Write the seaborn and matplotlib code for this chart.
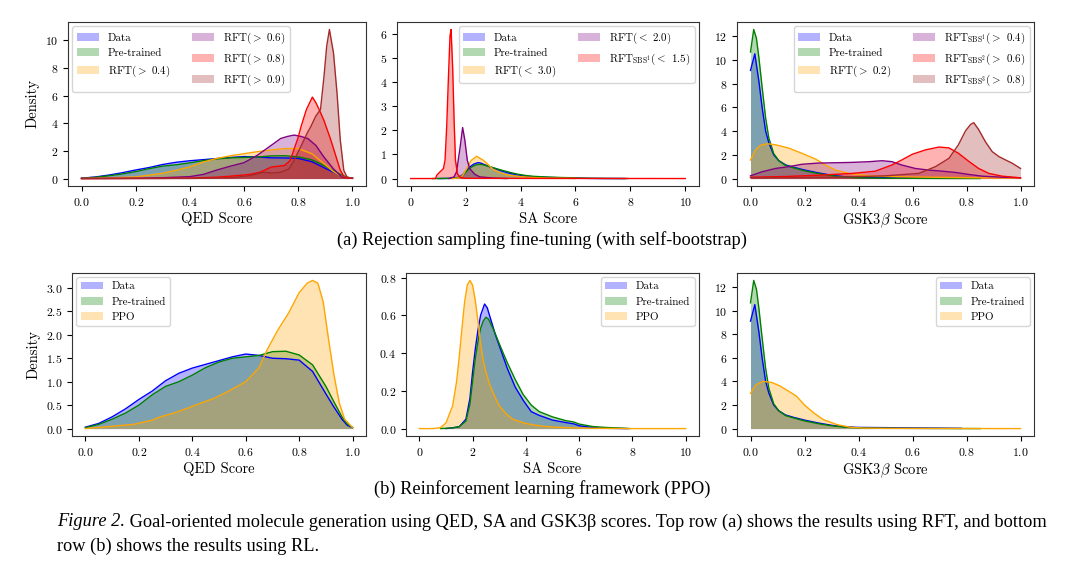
import matplotlib
matplotlib.use("Agg")
import matplotlib.pyplot as plt
from matplotlib.ticker import MultipleLocator
import seaborn as sns
import numpy as np
import pandas as pd

# ---------------- data ----------------
# QED, top row (RFT)
QED_DATA_X = [0, 0.05, 0.1, 0.15, 0.2, 0.25, 0.3, 0.35, 0.4, 0.45, 0.5, 0.55, 0.6, 0.65, 0.7, 0.75, 0.8, 0.85, 0.9, 0.93, 0.96, 0.98, 1.0]
QED_DATA_Y = [0.03, 0.11, 0.25, 0.42, 0.62, 0.8, 1.02, 1.18, 1.29, 1.37, 1.45, 1.53, 1.59, 1.56, 1.5, 1.49, 1.46, 1.22, 0.74, 0.46, 0.2, 0.07, 0.02]
QED_PRE_X = [0, 0.05, 0.1, 0.15, 0.2, 0.25, 0.3, 0.35, 0.4, 0.45, 0.5, 0.55, 0.6, 0.65, 0.7, 0.75, 0.8, 0.85, 0.9, 0.93, 0.96, 0.98, 1.0]
QED_PRE_Y = [0.02, 0.09, 0.2, 0.33, 0.5, 0.72, 0.9, 1.0, 1.14, 1.3, 1.42, 1.5, 1.53, 1.56, 1.64, 1.65, 1.57, 1.36, 0.9, 0.57, 0.25, 0.1, 0.02]
QED_RFT04_X = [0, 0.1, 0.2, 0.3, 0.35, 0.4, 0.45, 0.5, 0.55, 0.6, 0.65, 0.7, 0.75, 0.8, 0.85, 0.9, 0.93, 0.96, 0.98, 1.0]
QED_RFT04_Y = [0.0, 0.04, 0.12, 0.38, 0.6, 0.85, 1.2, 1.46, 1.65, 1.8, 1.95, 2.07, 2.17, 2.17, 1.8, 1.0, 0.5, 0.15, 0.05, 0.02]
QED_RFT06_X = [0, 0.2, 0.3, 0.4, 0.45, 0.5, 0.55, 0.6, 0.65, 0.7, 0.735, 0.76, 0.785, 0.81, 0.835, 0.865, 0.895, 0.93, 0.96, 0.98, 1.0]
QED_RFT06_Y = [0.0, 0.02, 0.06, 0.14, 0.3, 0.62, 0.9, 1.15, 1.7, 2.4, 2.9, 3.05, 3.15, 3.05, 2.9, 2.4, 1.55, 0.7, 0.12, 0.04, 0.02]
QED_RFT08_X = [0, 0.3, 0.4, 0.5, 0.55, 0.62, 0.66, 0.7, 0.75, 0.77, 0.8, 0.81, 0.83, 0.852, 0.865, 0.877, 0.895, 0.92, 0.94, 0.955, 0.97, 0.985, 1.0]
QED_RFT08_Y = [0.0, 0.01, 0.03, 0.1, 0.17, 0.3, 0.46, 0.83, 0.95, 1.3, 3.0, 3.75, 5.0, 5.9, 5.5, 5.0, 4.2, 2.8, 1.55, 0.6, 0.1, 0.03, 0.02]
QED_RFT09_X = [0, 0.4, 0.55, 0.625, 0.67, 0.705, 0.735, 0.766, 0.784, 0.809, 0.833, 0.846, 0.864, 0.882, 0.895, 0.905, 0.915, 0.93, 0.943, 0.955, 0.968, 0.98, 1.0]
QED_RFT09_Y = [0.0, 0.01, 0.05, 0.22, 0.45, 0.4, 0.46, 0.7, 1.3, 2.3, 3.3, 3.75, 4.5, 5.0, 7.4, 9.6, 10.8, 9.1, 6.2, 2.8, 0.6, 0.1, 0.02]

# SA
SA_DATA_X = [1.0, 1.3, 1.5, 1.75, 1.9, 2.0, 2.1, 2.2, 2.3, 2.45, 2.55, 2.7, 2.85, 3.0, 3.3, 3.6, 3.9, 4.2, 4.5, 5.0, 5.5, 5.8, 6.0, 6.5, 7.0, 7.8]
SA_DATA_Y = [0.0, 0.005, 0.01, 0.05, 0.16, 0.3, 0.42, 0.52, 0.6, 0.66, 0.64, 0.57, 0.5, 0.44, 0.32, 0.22, 0.15, 0.09, 0.07, 0.045, 0.032, 0.025, 0.015, 0.006, 0.002, 0.0]
SA_PRE_X = [0.8, 1.2, 1.5, 1.75, 1.9, 2.0, 2.1, 2.2, 2.3, 2.4, 2.5, 2.6, 2.8, 3.0, 3.3, 3.6, 3.9, 4.2, 4.5, 5.0, 5.5, 5.8, 6.0, 6.5, 7.0, 7.5, 7.9]
SA_PRE_Y = [0.0, 0.003, 0.01, 0.04, 0.13, 0.25, 0.37, 0.46, 0.53, 0.57, 0.59, 0.58, 0.52, 0.45, 0.35, 0.26, 0.18, 0.125, 0.09, 0.062, 0.042, 0.035, 0.024, 0.011, 0.006, 0.003, 0.0]
SA_RFT30_X = [1.5, 1.8, 1.9, 2.04, 2.2, 2.4, 2.64, 2.8, 3.0, 3.25, 3.5, 4.0, 4.5, 5.0, 6.0]
SA_RFT30_Y = [0.0, 0.03, 0.14, 0.41, 0.75, 0.92, 0.76, 0.6, 0.38, 0.24, 0.15, 0.08, 0.04, 0.02, 0.005]
SA_RFT20_X = [1.4, 1.58, 1.67, 1.73, 1.8, 1.89, 1.97, 2.06, 2.15, 2.33, 2.51, 3.0, 3.5]
SA_RFT20_Y = [0.0, 0.07, 0.28, 0.76, 1.3, 2.11, 1.6, 0.76, 0.41, 0.18, 0.07, 0.02, 0.0]
SA_SBS15_X = [0, 0.9, 0.95, 1.07, 1.19, 1.25, 1.31, 1.37, 1.43, 1.47, 1.53, 1.58, 1.63, 1.7, 1.8, 2.0, 10.0]
SA_SBS15_Y = [0.0, 0.0, 0.14, 0.28, 0.41, 0.76, 2.14, 4.07, 5.9, 6.17, 4.5, 2.4, 0.76, 0.2, 0.05, 0.01, 0.0]

# GSK3beta
GSK_DATA_X = [0, 0.016, 0.031, 0.043, 0.056, 0.068, 0.086, 0.105, 0.13, 0.16, 0.2, 0.25, 0.3, 0.35, 0.4, 0.5, 0.6, 0.7, 0.78]
GSK_DATA_Y = [9.1, 10.5, 8.2, 6.0, 4.0, 3.0, 2.0, 1.5, 1.15, 0.95, 0.72, 0.48, 0.28, 0.15, 0.1, 0.08, 0.06, 0.04, 0.02]
GSK_PRE_X = [0, 0.012, 0.022, 0.031, 0.043, 0.056, 0.068, 0.086, 0.105, 0.13, 0.16, 0.2, 0.25, 0.3, 0.35, 0.4, 0.5, 0.6, 0.7, 0.85]
GSK_PRE_Y = [10.65, 12.55, 11.8, 10.2, 7.7, 5.1, 3.4, 2.1, 1.5, 1.1, 0.9, 0.65, 0.42, 0.24, 0.12, 0.06, 0.03, 0.02, 0.01, 0.0]
GSK_RFT02_X = [0, 0.018, 0.037, 0.062, 0.093, 0.142, 0.19, 0.24, 0.278, 0.315, 0.365, 0.44, 0.55, 0.7, 0.85, 1.0]
GSK_RFT02_Y = [1.56, 2.4, 2.8, 2.93, 2.84, 2.56, 2.13, 1.65, 1.14, 0.71, 0.43, 0.23, 0.15, 0.1, 0.06, 0.03]
GSK_SBS1_X = [0, 0.043, 0.093, 0.142, 0.19, 0.25, 0.315, 0.376, 0.44, 0.487, 0.524, 0.56, 0.61, 0.66, 0.71, 0.76, 0.81, 0.858, 0.932, 1.0]
GSK_SBS1_Y = [0.23, 0.57, 0.85, 1.0, 1.2, 1.3, 1.33, 1.36, 1.42, 1.5, 1.42, 1.14, 0.85, 0.71, 0.62, 0.51, 0.34, 0.2, 0.11, 0.06]
GSK_SBS2_X = [0, 0.13, 0.25, 0.376, 0.462, 0.524, 0.56, 0.6, 0.648, 0.698, 0.735, 0.77, 0.81, 0.845, 0.883, 0.932, 1.0]
GSK_SBS2_Y = [0.11, 0.17, 0.28, 0.43, 0.62, 1.14, 1.56, 2.05, 2.41, 2.65, 2.58, 2.13, 1.42, 0.85, 0.43, 0.2, 0.06]
GSK_SBS3_X = [0, 0.315, 0.5, 0.623, 0.685, 0.735, 0.77, 0.796, 0.815, 0.827, 0.845, 0.87, 0.895, 0.92, 0.945, 0.97, 1.0]
GSK_SBS3_Y = [0.06, 0.11, 0.23, 0.43, 1.0, 1.7, 2.84, 4.0, 4.55, 4.7, 4.12, 3.1, 2.27, 1.85, 1.56, 1.28, 0.85]

# PPO (bottom row)
QED_PPO_X = [0, 0.1, 0.18, 0.25, 0.28, 0.33, 0.38, 0.43, 0.48, 0.53, 0.6, 0.65, 0.68, 0.72, 0.76, 0.8, 0.83, 0.85, 0.87, 0.89, 0.91, 0.93, 0.95, 0.97, 1.0]
QED_PPO_Y = [0.0, 0.05, 0.09, 0.18, 0.25, 0.33, 0.43, 0.54, 0.64, 0.78, 1.0, 1.3, 1.68, 2.1, 2.46, 2.9, 3.1, 3.16, 3.1, 2.7, 1.9, 1.15, 0.55, 0.2, 0.02]
SA_PPO_X = [0, 0.5, 0.8, 1.0, 1.25, 1.4, 1.5, 1.6, 1.7, 1.8, 1.9, 2.0, 2.1, 2.2, 2.3, 2.4, 2.5, 2.65, 2.8, 3.0, 3.25, 3.5, 4.0, 4.5, 5.0, 6.0, 7.0, 8.0, 10.0]
SA_PPO_Y = [0.0, 0.0, 0.005, 0.03, 0.12, 0.25, 0.38, 0.53, 0.67, 0.76, 0.785, 0.76, 0.68, 0.57, 0.45, 0.36, 0.3, 0.23, 0.18, 0.12, 0.08, 0.05, 0.027, 0.015, 0.008, 0.003, 0.001, 0.0, 0.0]
GSK_PPO_X = [0, 0.02, 0.045, 0.08, 0.11, 0.135, 0.17, 0.2, 0.234, 0.27, 0.32, 0.37, 0.42, 0.5, 0.7, 1.0]
GSK_PPO_Y = [3.0, 3.7, 4.0, 3.9, 3.6, 3.25, 2.75, 2.0, 1.33, 0.76, 0.34, 0.11, 0.04, 0.02, 0.01, 0.0]

LABEL_DATA = "Data"
LABEL_PRE = "Pre-trained"
LABELS_QED_RFT = [r"RFT(${>}$ 0.4)", r"RFT(${>}$ 0.6)", r"RFT(${>}$ 0.8)", r"RFT(${>}$ 0.9)"]
LABELS_SA_RFT = [r"RFT(${<}$ 3.0)", r"RFT(${<}$ 2.0)", r"RFT$_{\rm SBS^1}$(${<}$ 1.5)"]
LABELS_GSK_RFT = [r"RFT(${>}$ 0.2)", r"RFT$_{\rm SBS^1}$(${>}$ 0.4)", r"RFT$_{\rm SBS^2}$(${>}$ 0.6)", r"RFT$_{\rm SBS^3}$(${>}$ 0.8)"]
LABEL_PPO = "PPO"

COLORS = ["blue", "green", "orange", "purple", "red", "brown"]

# ---------------- style ----------------
plt.rcParams["font.family"] = ["cmr10", "DejaVu Serif"]
plt.rcParams["mathtext.fontset"] = "cm"
plt.rcParams["axes.formatter.use_mathtext"] = True
plt.rcParams["axes.unicode_minus"] = False

W, H = 1080, 569
fig = plt.figure(figsize=(W / 100, H / 100), dpi=100)


def px_axes(l, t, r, b):
    return fig.add_axes([l / W, 1 - b / H, (r - l) / W, (b - t) / H])


def draw(ax, x, y, color, label):
    df = pd.DataFrame({"x": x, "y": y})
    sns.lineplot(data=df, x="x", y="y", color=color, linewidth=1.0, ax=ax,
                 estimator=None, sort=True)
    return ax.fill_between(df["x"], df["y"], 0, color=color, alpha=0.3,
                           linewidth=0, label=label)


def finish(ax, xlabel, ylabel, loc, ncol, ystep, xstep):
    ax.set_xlabel(xlabel, fontsize=10.5, labelpad=3)
    ax.set_ylabel(ylabel if ylabel else "", fontsize=10.5)
    ax.yaxis.set_major_locator(MultipleLocator(ystep))
    ax.xaxis.set_major_locator(MultipleLocator(xstep))
    ax.tick_params(labelsize=8.5, length=3.5, width=0.8)
    for s in ax.spines.values():
        s.set_edgecolor("#333333")
    ax.legend(loc=loc, ncol=ncol, fontsize=7.9, borderaxespad=0.4)


axes_top = [px_axes(68, 22, 366, 186), px_axes(397, 22, 699, 186), px_axes(737, 22, 1034, 186)]
axes_bot = [px_axes(72, 273, 366, 436), px_axes(406, 273, 699, 436), px_axes(737, 273, 1034, 436)]

# top-left
ax = axes_top[0]
draw(ax, QED_DATA_X, QED_DATA_Y, COLORS[0], LABEL_DATA)
draw(ax, QED_PRE_X, QED_PRE_Y, COLORS[1], LABEL_PRE)
for (xx, yy), c, lab in zip([(QED_RFT04_X, QED_RFT04_Y), (QED_RFT06_X, QED_RFT06_Y),
                             (QED_RFT08_X, QED_RFT08_Y), (QED_RFT09_X, QED_RFT09_Y)],
                            COLORS[2:], LABELS_QED_RFT):
    draw(ax, xx, yy, c, lab)
finish(ax, "QED Score", "Density", "upper left", 2, 2, 0.2)

# top-middle
ax = axes_top[1]
draw(ax, SA_DATA_X, SA_DATA_Y, COLORS[0], LABEL_DATA)
draw(ax, SA_PRE_X, SA_PRE_Y, COLORS[1], LABEL_PRE)
for (xx, yy), c, lab in zip([(SA_RFT30_X, SA_RFT30_Y), (SA_RFT20_X, SA_RFT20_Y),
                             (SA_SBS15_X, SA_SBS15_Y)],
                            [COLORS[2], COLORS[3], COLORS[4]], LABELS_SA_RFT):
    draw(ax, xx, yy, c, lab)
finish(ax, "SA Score", None, "upper right", 2, 1, 2)

# top-right
ax = axes_top[2]
draw(ax, GSK_DATA_X, GSK_DATA_Y, COLORS[0], LABEL_DATA)
draw(ax, GSK_PRE_X, GSK_PRE_Y, COLORS[1], LABEL_PRE)
for (xx, yy), c, lab in zip([(GSK_RFT02_X, GSK_RFT02_Y), (GSK_SBS1_X, GSK_SBS1_Y),
                             (GSK_SBS2_X, GSK_SBS2_Y), (GSK_SBS3_X, GSK_SBS3_Y)],
                            COLORS[2:], LABELS_GSK_RFT):
    draw(ax, xx, yy, c, lab)
finish(ax, r"GSK3$\beta$ Score", None, "upper right", 2, 2, 0.2)

# bottom row
bottom_sets = [
    (QED_DATA_X, QED_DATA_Y, QED_PRE_X, QED_PRE_Y, QED_PPO_X, QED_PPO_Y, "QED Score", "Density", "upper left", 0.5, 0.2),
    (SA_DATA_X, SA_DATA_Y, SA_PRE_X, SA_PRE_Y, SA_PPO_X, SA_PPO_Y, "SA Score", None, "upper right", 0.2, 2),
    (GSK_DATA_X, GSK_DATA_Y, GSK_PRE_X, GSK_PRE_Y, GSK_PPO_X, GSK_PPO_Y, r"GSK3$\beta$ Score", None, "upper right", 2, 0.2),
]
for ax, (dx, dy, px, py, ox, oy, xl, yl, loc, ys, xs) in zip(axes_bot, bottom_sets):
    draw(ax, dx, dy, COLORS[0], LABEL_DATA)
    draw(ax, px, py, COLORS[1], LABEL_PRE)
    draw(ax, ox, oy, COLORS[2], LABEL_PPO)
    finish(ax, xl, yl, loc, 1, ys, xs)

# ---------------- captions ----------------
serif = "Liberation Serif"
renderer = fig.canvas.get_renderer()

line1_rest = (" Goal-oriented molecule generation using QED, SA and GSK3\u03b2 scores. "
              "Top row (a) shows the results using RFT, and bottom")
line2 = "row (b) shows the results using RL."
cap_size = 11.0
t1 = fig.text(57 / W, 1 - 522 / H, "Figure 2.", family=serif, style="italic",
              fontsize=cap_size, ha="left", va="center")
t2 = fig.text(0, 1 - 522 / H, line1_rest, family=serif, fontsize=cap_size,
              ha="left", va="center")
w_total = t1.get_window_extent(renderer).width + t2.get_window_extent(renderer).width
cap_size = cap_size * 988 / w_total
t1.set_fontsize(cap_size)
t2.set_fontsize(cap_size)
w1 = t1.get_window_extent(renderer).width
t2.set_x((57 + w1) / W)
fig.text(57 / W, 1 - 546 / H, line2, family=serif, fontsize=cap_size, ha="left", va="center")

fig.text(542 / W, 1 - 240 / H, "(a) Rejection sampling fine-tuning (with self-bootstrap)",
         ha="center", va="center", family=serif, fontsize=cap_size)
fig.text(542 / W, 1 - 489 / H, "(b) Reinforcement learning framework (PPO)",
         ha="center", va="center", family=serif, fontsize=cap_size)

fig.savefig("out.png", dpi=100)
